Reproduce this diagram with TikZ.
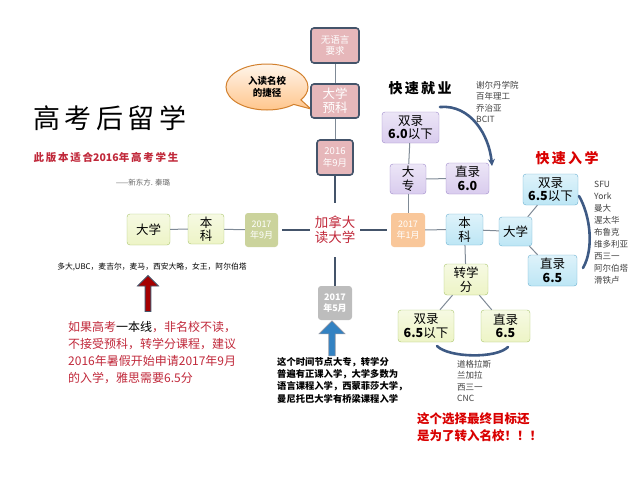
\documentclass[tikz,border=0pt]{standalone}
\usepackage{fontspec}
\setmainfont{Noto Sans CJK SC}
\usetikzlibrary{shapes.callouts,shapes.arrows,arrows.meta}

\definecolor{slate}{HTML}{44546A}
\definecolor{linegray}{HTML}{7F8A96}
\definecolor{pinkfill}{HTML}{E6B7BA}
\definecolor{purpfill}{HTML}{D9CCEE}
\definecolor{purpdraw}{HTML}{9D88C9}
\definecolor{bluefill}{HTML}{BDE6F5}
\definecolor{bluedraw}{HTML}{6AAFD0}
\definecolor{grnfill}{HTML}{EDF4C6}
\definecolor{grndraw}{HTML}{A9C46C}
\definecolor{olivefill}{HTML}{CBD39C}
\definecolor{peachfill}{HTML}{F9C79A}
\definecolor{grayfill}{HTML}{BDBDBD}
\definecolor{redtxt}{HTML}{C0283A}
\definecolor{arcblue}{HTML}{3E5A84}

\tikzset{
  box/.style={rounded corners=3pt, align=center, inner sep=1pt,
    font=\fontsize{12.5}{13.5}\selectfont},
  pinkbox/.style={box, draw=slate, line width=1.6pt, fill=pinkfill,
    text=white, font=\fontsize{9.5}{11.5}\selectfont},
  datebox/.style={box, text=white, font=\fontsize{9}{11}\selectfont},
  purpbox/.style={box, draw=purpdraw, top color=purpfill!50, bottom color=purpfill},
  bluebox/.style={box, draw=bluedraw, top color=bluefill!50, bottom color=bluefill},
  grnbox/.style={box, draw=grndraw, top color=grnfill!50, bottom color=grnfill},
  thinline/.style={linegray, line width=1pt},
  thickline/.style={slate, line width=2.2pt, shorten <=4pt, shorten >=4pt},
  curvearc/.style={arcblue, line width=2.6pt, line cap=round},
  list/.style={align=left, anchor=north west, inner sep=0pt,
    font=\fontsize{8.5}{11.5}\selectfont, text=black!75}
}

\begin{document}
\begin{tikzpicture}[x=1pt,y=-1pt]
        \useasboundingbox (0,0) rectangle (640,480);
        % Title and subtitle
        \node (title) at (110,118) {\fontsize{27}{30}\selectfont 高\,考\,后\,留\,学};
        \node[text=redtxt, font=\fontsize{10.5}{12}\selectfont\bfseries] (sub) at (106,158) {此\,版\,本\,适\,合2016年\,高\,考\,学\,生};
        \node[text=black!60, font=\fontsize{7.5}{9}\selectfont] (sign) at (143,183) {——新东方. 秦璐};
        % Callout bubble
        \node[ellipse callout, draw=brown!70!orange, line width=1pt, top color=orange!8, bottom color=orange!45,
          minimum width=82pt, minimum height=46pt, callout absolute pointer={(311,109)}, align=center,
          font=\fontsize{9.5}{12}\selectfont\bfseries] (bubble) at (267,87) {入读名校\\的捷径};
        % Top branch
        \node[pinkbox, minimum width=48pt, minimum height=35pt] (nolang) at (335,45.5) {无语言\\要求};
        \node[pinkbox, minimum width=48pt, minimum height=34pt, font=\fontsize{12.5}{14}\selectfont] (prep) at (335,101) {大学\\预科};
        \node[pinkbox, minimum width=36pt, minimum height=35pt] (sep16) at (335,157.5) {2016\\年9月};
        % Centre
        \node[text=redtxt, align=center, inner xsep=1pt, inner ysep=9pt, font=\fontsize{13.5}{15}\selectfont] (canada) at (335,230) {加拿大\\读大学};
        \node[datebox, fill=grayfill, minimum width=34pt, minimum height=34pt, font=\fontsize{9}{11}\selectfont\bfseries] (may17) at (335,303) {2017\\年5月};
        \node[datebox, fill=olivefill, minimum width=33pt, minimum height=34pt] (sep17) at (261.5,230) {2017\\年9月};
        \node[datebox, fill=peachfill, minimum width=34pt, minimum height=34pt] (jan17) at (408,230) {2017\\年1月};
        % Left branch
        \node[grnbox, minimum width=36pt, minimum height=30pt] (lben) at (206,229) {本\\科};
        \node[grnbox, minimum width=43pt, minimum height=31pt] (luni) at (148.5,229.5) {大学};
        % Fast employment branch
        \node[purpbox, minimum width=36pt, minimum height=30pt] (college) at (408,179) {大\\专};
        \node[purpbox, minimum width=57pt, minimum height=31pt] (dual60) at (410.5,127.5) {双录\\\textbf{6.0}以下};
        \node[purpbox, minimum width=43pt, minimum height=31pt] (direct60) at (467.5,178.5) {直录\\\textbf{6.0}};
        % Fast entry branch
        \node[bluebox, minimum width=37pt, minimum height=31pt] (rben) at (464.5,229.5) {本\\科};
        \node[bluebox, minimum width=33pt, minimum height=29pt] (runi) at (515.5,231.5) {大学};
        \node[bluebox, minimum width=55pt, minimum height=31pt] (dual65) at (550.5,189.5) {双录\\\textbf{6.5}以下};
        \node[bluebox, minimum width=49pt, minimum height=31pt] (direct65) at (552.5,270.5) {直录\\\textbf{6.5}};
        % Transfer credit branch
        \node[grnbox, minimum width=44pt, minimum height=31pt] (credit) at (466,279.5) {转学\\分};
        \node[grnbox, minimum width=56pt, minimum height=32pt] (gdual) at (426,326) {双录\\\textbf{6.5}以下};
        \node[grnbox, minimum width=49pt, minimum height=32pt] (gdirect) at (505.5,326) {直录\\\textbf{6.5}};
        % Draw the connectors
        \draw[thinline] (nolang) -- (prep);
        \draw[thinline] (prep) -- (sep16);
        \draw[thickline, shorten <=0pt] (sep16) -- (canada);
        \draw[thickline, shorten >=0pt] (canada) -- (may17);
        \draw[thickline] (sep17) -- (canada);
        \draw[thickline] (canada) -- (jan17);
        \draw[thinline] (luni) -- (lben);
        \draw[thinline] (lben) -- (sep17);
        \draw[thinline] (jan17) -- (college);
        \draw[thinline] (college) -- (dual60);
        \draw[thinline] (college) -- (direct60);
        \draw[thinline] (jan17) -- (rben);
        \draw[thinline] (rben) -- (runi);
        \draw[thinline] (runi) -- (dual65);
        \draw[thinline] (runi) -- (direct65);
        \draw[thinline] (rben) -- (credit);
        \draw[thinline] (credit) -- (gdual);
        \draw[thinline] (credit) -- (gdirect);
        % Curved arrows and brackets
        \coordinate (jobA) at (440,107);
        \coordinate (jobB) at (492,166);
        \draw[curvearc, -{Stealth[length=7pt,width=7pt]}] (jobA) to[out=5,in=95] (jobB);
        \coordinate (entA) at (579,196);
        \coordinate (entB) at (583,268);
        \draw[curvearc] (entA) to[out=-60,in=60,looseness=0.8] (entB);
        \coordinate (trA) at (437,346);
        \coordinate (trB) at (508,347);
        \draw[curvearc] (trA) to[out=-45,in=-135,looseness=0.6] (trB);
        % Block arrows
        \node[single arrow, rotate=90, draw=slate, line width=0.8pt, fill=red!65!black,
          minimum height=36pt, minimum width=21pt, single arrow head extend=5pt, inner sep=1.5pt] (redup) at (148,295) {};
        \node[single arrow, rotate=90, draw=slate!60, line width=0.6pt, fill=blue!45!cyan!70!black!80,
          minimum height=35pt, minimum width=26pt, single arrow head extend=7pt, inner sep=2pt] (blueup) at (332,340) {};
        % Headings
        \node[font=\fontsize{14}{16}\selectfont\bfseries] (jobhead) at (420,88) {快\,速\,就\,业};
        \node[text=red!85!black, font=\fontsize{14}{16}\selectfont\bfseries] (enthead) at (567,158) {快\,速\,入\,学};
        % School lists
        \node[list] (joblist) at (476,81) {谢尔丹学院\\百年理工\\乔治亚\\BCIT};
        \node[list, font=\fontsize{8.5}{12}\selectfont] (entlist) at (594,181) {SFU\\York\\曼大\\渥太华\\布鲁克\\维多利亚\\西三一\\阿尔伯塔\\滑铁卢};
        \node[list] (trlist) at (457,360) {道格拉斯\\兰加拉\\西三一\\CNC};
        \node[font=\fontsize{7.8}{9}\selectfont] (toplist) at (152,267) {多大,UBC，麦吉尔，麦马，西安大略，女王，阿尔伯塔};
        % Notes
        \node[align=left, text=redtxt, anchor=north west, inner sep=0pt, font=\fontsize{12}{17}\selectfont] (rednote) at (68,321)
          {如果高考\textcolor{black}{一本线}，非名校不读，\\不接受预科，转学分课程，建议\\2016年暑假开始申请2017年9月\\的入学，雅思需要6.5分};
        \node[align=left, anchor=north west, inner sep=0pt, font=\fontsize{9.3}{12.3}\selectfont\bfseries] (blacknote) at (277,357)
          {这个时间节点大专，转学分\\普遍有正课入学，大学多数为\\语言课程入学，西蒙菲莎大学，\\曼尼托巴大学有桥梁课程入学};
        \node[align=left, anchor=north west, inner sep=0pt, text=red!85!black, font=\fontsize{12.5}{17}\selectfont\bfseries] (goal) at (417,412)
          {这个选择最终目标还\\是为了转入名校！！！};
    \end{tikzpicture}
\end{document}
